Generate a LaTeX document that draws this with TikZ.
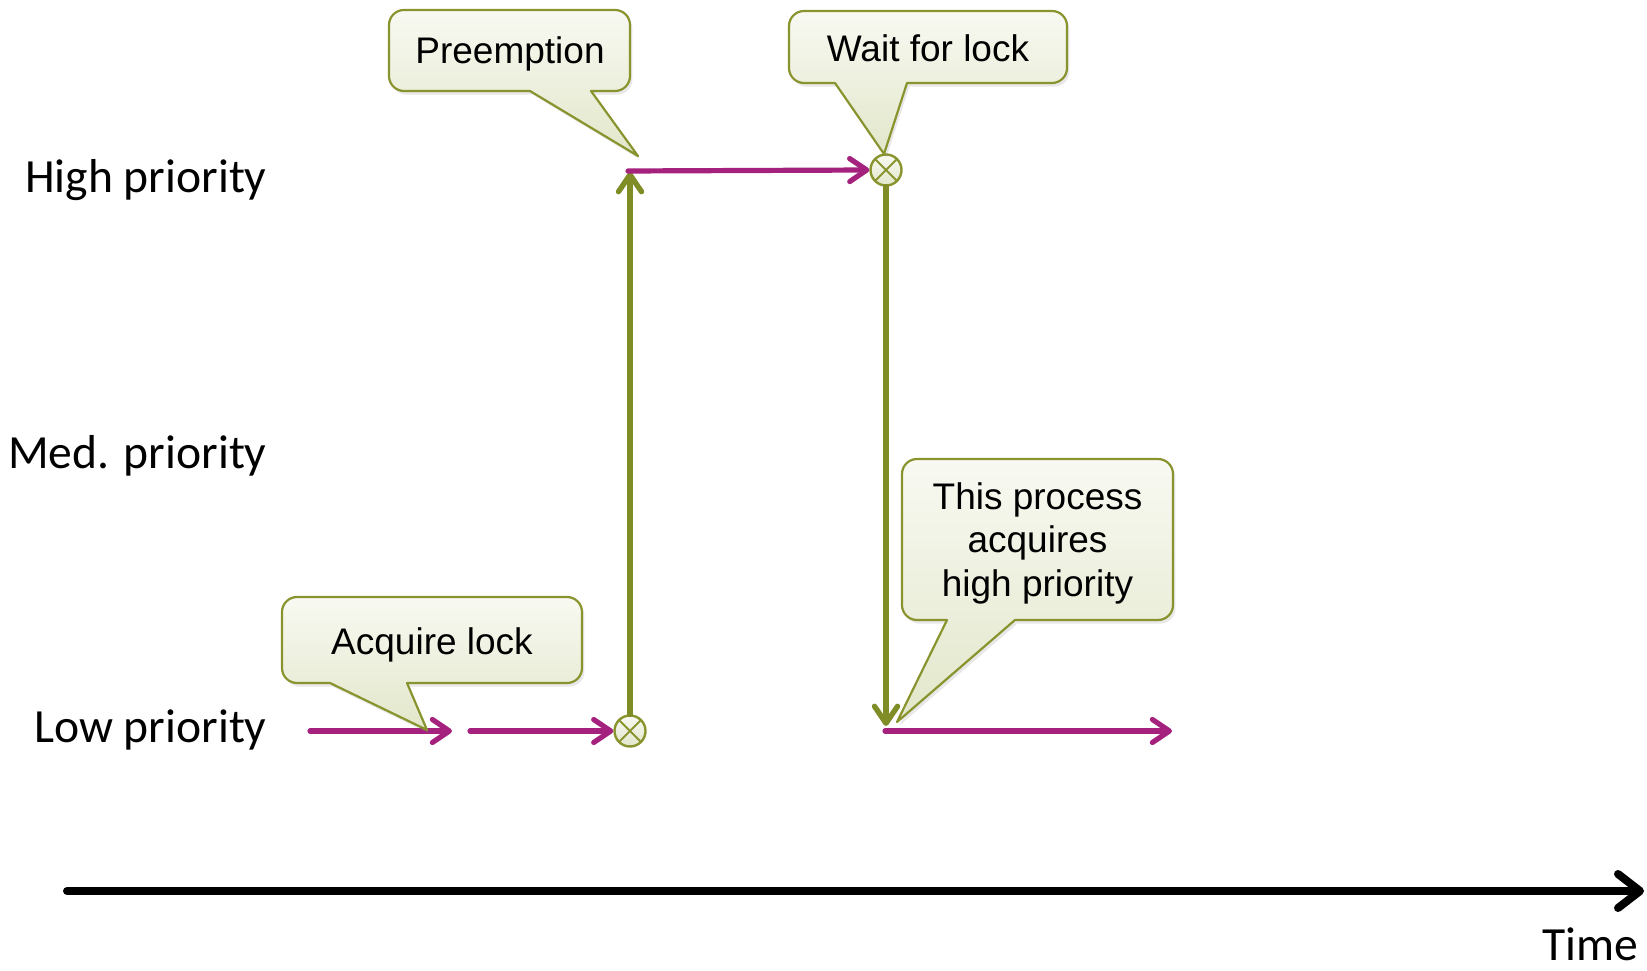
\documentclass[tikz,border=0pt]{standalone}
\usepackage{fontspec}
\setmainfont{Liberation Sans}
\newfontfamily\calfont{Carlito}
\usetikzlibrary{arrows.meta,shadows}
\definecolor{mag}{RGB}{164,34,126}
\definecolor{olv}{RGB}{128,140,38}
\definecolor{olvb}{RGB}{138,148,46}
\definecolor{ctop}{RGB}{248,249,242}
\definecolor{cbot}{RGB}{226,231,202}
\tikzset{
 magarrow/.style={draw=mag, line width=2.6pt, line cap=round, -{Straight Barb[length=8.5pt,width=11.5pt,round]}},
 grnarrow/.style={draw=olv, line width=2.7pt, line cap=round, -{Straight Barb[length=8.5pt,width=11.5pt,round]}},
 timearrow/.style={draw=black, line width=4pt, line cap=round, -{Straight Barb[length=11pt,width=17pt,round]}},
 calloutsty/.style={draw=olvb, line width=1.1pt, line join=round, top color=ctop, bottom color=cbot, drop shadow={opacity=0.18, shadow xshift=1.2pt, shadow yshift=-1.8pt}},
 ctext/.style={font=\fontsize{18.5}{21.75}\selectfont, inner sep=0pt, align=center},
 prio/.style={font=\calfont\fontsize{23.8}{28}\selectfont, inner sep=0pt, anchor=base east},
 lockc/.style={circle, draw=olvb, line width=1.2pt, top color=ctop, bottom color=cbot, minimum size=15.5pt, inner sep=0pt,
   path picture={\draw[olvb, line width=1pt] (path picture bounding box.north east) -- (path picture bounding box.south west)
     (path picture bounding box.north west) -- (path picture bounding box.south east);}}
}
\newcommand\mycallout[8]{%
\draw[calloutsty] ({#5},{970-(#4)}) -- ({#7},{970-(#8)}) -- ({#6},{970-(#4)}) -- ({#3-15},{970-(#4)})
 arc[start angle=-90,end angle=0,radius=7.5pt] -- ({#3},{970-(#2)-15})
 arc[start angle=0,end angle=90,radius=7.5pt] -- ({#1+15},{970-(#2)})
 arc[start angle=90,end angle=180,radius=7.5pt] -- ({#1},{970-(#4)+15})
 arc[start angle=180,end angle=270,radius=7.5pt] -- cycle;}
\begin{document}
\begin{tikzpicture}[x=0.5pt,y=0.5pt]
\useasboundingbox (0,0) rectangle (1647,970);
% priority labels
\node[prio] (high) at (267,777) {High priority};
\node[prio] (med) at (267,502) {Med. priority};
\node[prio] (low) at (267,228) {Low priority};
\node[prio] (time) at (1639,10) {Time};
% coordinates
\coordinate (la) at (310,239);
\coordinate (lb) at (452,239);
\coordinate (lc) at (470,239);
\node[lockc] (c1) at (630,239) {};
\coordinate (hu) at (630,798);
\coordinate (ha) at (628,799);
\node[lockc] (c2) at (886,800) {};
\coordinate (ld) at (886,244);
\coordinate (le) at (885,239);
\coordinate (lf) at (1172,239);
\coordinate (ta) at (67,79);
\coordinate (tb) at (1644,79);
% arrows
\draw[magarrow] (la) -- (lb);
\draw[magarrow] (lc) -- (c1.west);
\draw[grnarrow] (c1.north) -- (hu);
\draw[magarrow] (ha) -- (c2.west);
\draw[grnarrow] (c2.south) -- (ld);
\draw[magarrow] (le) -- (lf);
\draw[timearrow] (ta) -- (tb);
% callouts
\mycallout{389}{10}{630}{91}{530}{591}{638}{156}
\node[ctext, anchor=base] (preempt) at (510,906) {Preemption};
\mycallout{789}{11}{1067}{83}{835}{907}{884}{154}
\node[ctext, anchor=base] (waitlock) at (928,908) {Wait for lock};
\mycallout{282}{597}{582}{683}{330}{407}{427}{730}
\node[ctext, anchor=base] (acquire) at (432,316) {Acquire lock};
\mycallout{902}{459}{1173}{620}{947}{1015}{897}{722}
\node[ctext] (thisproc) at (1037.5,427) {This process\\acquires\\high priority};
\end{tikzpicture}
\end{document}
